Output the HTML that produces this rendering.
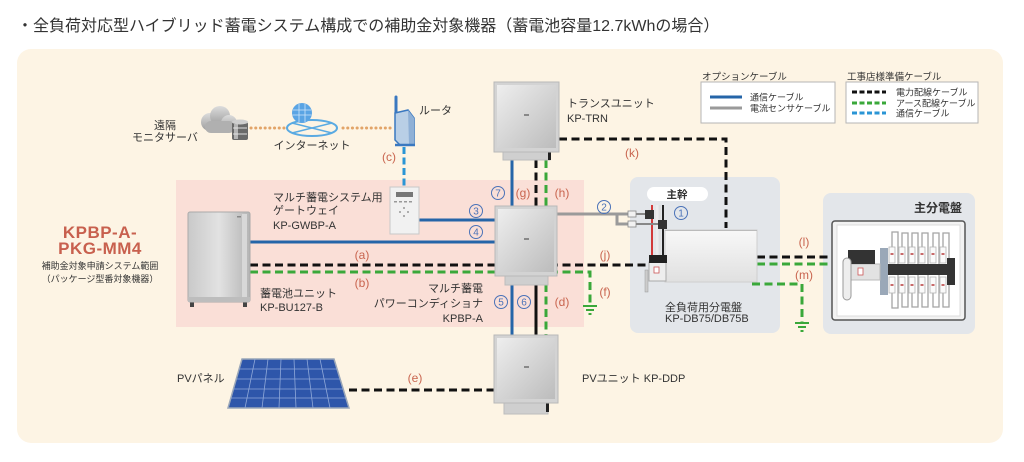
<!DOCTYPE html>
<html><head><meta charset="utf-8">
<style>
html,body{margin:0;padding:0;background:#fff;width:1024px;height:462px;overflow:hidden}
svg{display:block}
text{font-family:"Liberation Sans","Noto Sans CJK JP",sans-serif}
</style></head><body>
<svg width="1024" height="462" viewBox="0 0 1024 462" xmlns="http://www.w3.org/2000/svg">
<defs>
<linearGradient id="sil" x1="0" y1="0" x2="1" y2="1">
<stop offset="0" stop-color="#eeeeee"/><stop offset="1" stop-color="#bcbcbc"/>
</linearGradient>
<linearGradient id="sil2" x1="0" y1="0" x2="1" y2="0">
<stop offset="0" stop-color="#c9c9c9"/><stop offset="0.5" stop-color="#e2e2e2"/><stop offset="1" stop-color="#b5b5b5"/>
</linearGradient>
<linearGradient id="cloud" x1="0" y1="0" x2="0" y2="1"><stop offset="0" stop-color="#dcdcdc"/><stop offset="1" stop-color="#9c9c9c"/></linearGradient>
<linearGradient id="db" x1="0" y1="0" x2="0" y2="1"><stop offset="0" stop-color="#f8f8f8"/><stop offset="1" stop-color="#e0e0e0"/></linearGradient>
</defs>

<!-- title -->
<text x="17" y="31" font-size="16" fill="#333">・全負荷対応型ハイブリッド蓄電システム構成での補助金対象機器（蓄電池容量12.7kWhの場合）</text>

<!-- panels -->
<rect x="17" y="49" width="986" height="394" rx="14" fill="#fdf4e4"/>
<rect x="176" y="180" width="408" height="147" fill="#fadfd7"/>
<rect x="630" y="177" width="150" height="156" rx="8" fill="#e3e6ea"/>
<rect x="823" y="193" width="152" height="141" rx="8" fill="#e3e6ea"/>

<!-- legend -->
<text x="702" y="80" font-size="9.5" fill="#333">オプションケーブル</text>
<rect x="701" y="82" width="134" height="41" fill="#fff" stroke="#b5b5b5" stroke-width="1"/>
<line x1="710" y1="97" x2="742" y2="97" stroke="#2565a8" stroke-width="3"/>
<line x1="710" y1="108" x2="742" y2="108" stroke="#9a9a9a" stroke-width="3"/>
<text x="750" y="100.5" font-size="9" fill="#333">通信ケーブル</text>
<text x="750" y="111.5" font-size="9" fill="#333">電流センサケーブル</text>

<text x="847" y="80" font-size="9.5" fill="#333">工事店様準備ケーブル</text>
<rect x="846" y="82" width="132" height="41" fill="#fff" stroke="#b5b5b5" stroke-width="1"/>
<line x1="852" y1="92" x2="886" y2="92" stroke="#111" stroke-width="3" stroke-dasharray="5 2.5"/>
<line x1="852" y1="103" x2="886" y2="103" stroke="#3aa83a" stroke-width="3" stroke-dasharray="5 2.5"/>
<line x1="852" y1="113" x2="886" y2="113" stroke="#2a95d5" stroke-width="3" stroke-dasharray="5 2.5"/>
<text x="896" y="95.5" font-size="9" fill="#333">電力配線ケーブル</text>
<text x="896" y="106.5" font-size="9" fill="#333">アース配線ケーブル</text>
<text x="896" y="116.5" font-size="9" fill="#333">通信ケーブル</text>

<!-- connection lines -->
<g fill="none" stroke-width="3">
  <!-- internet dotted -->
  <line x1="251" y1="128" x2="284" y2="128" stroke="#e2a468" stroke-dasharray="0.1 4.6" stroke-linecap="round"/>
  <line x1="343" y1="128" x2="391" y2="128" stroke="#e2a468" stroke-dasharray="0.1 4.6" stroke-linecap="round"/>
  <!-- (c) -->
  <line x1="404" y1="147" x2="404" y2="187" stroke="#2a95d5" stroke-dasharray="7 3.5"/>
  <!-- 7, g, h -->
  <line x1="512" y1="159" x2="512" y2="206" stroke="#2565a8"/>
  <line x1="536" y1="160" x2="536" y2="206" stroke="#111" stroke-dasharray="8 4.5"/>
  <line x1="546" y1="160" x2="546" y2="206" stroke="#3aa83a" stroke-dasharray="8 4.5"/>
  <!-- 3, 4 -->
  <line x1="418" y1="220" x2="495" y2="220" stroke="#2565a8"/>
  <line x1="250" y1="242" x2="495" y2="242" stroke="#2565a8"/>
  <!-- a / j -->
  <line x1="250" y1="265" x2="650" y2="265" stroke="#111" stroke-dasharray="8 4.5"/>
  <!-- b / f -->
  <polyline points="250,272 590,272 590,305" stroke="#3aa83a" stroke-dasharray="8 4.5"/>
  <!-- 2 gray -->
  <polyline points="557,214 632,214" stroke="#9a9a9a"/>
  <polyline points="617,214 617,224 632,224" stroke="#9a9a9a"/>
  <!-- k -->
  <polyline points="559,139 726,139 726,228" stroke="#111" stroke-dasharray="8 4.5"/>
  <!-- l, m -->
  <line x1="757" y1="257" x2="834" y2="257" stroke="#111" stroke-dasharray="8 4.5"/>
  <line x1="757" y1="264" x2="834" y2="264" stroke="#3aa83a" stroke-dasharray="8 4.5"/>
  <polyline points="752,284 802,284 802,322" stroke="#3aa83a" stroke-dasharray="8 4.5"/>
  <!-- 5, 6, d -->
  <line x1="512" y1="284" x2="512" y2="337" stroke="#2565a8"/>
  <line x1="536" y1="284" x2="536" y2="337" stroke="#111"/>
  <line x1="546" y1="284" x2="546" y2="337" stroke="#3aa83a" stroke-dasharray="8 4.5"/>
  <!-- e -->
  <line x1="349" y1="390" x2="494" y2="390" stroke="#111" stroke-dasharray="8 4.5"/>
</g>

<!-- grounds -->
<g stroke="#3aa83a" stroke-width="2">
  <line x1="583" y1="306" x2="597" y2="306"/><line x1="586" y1="310" x2="594" y2="310"/><line x1="588.5" y1="314" x2="591.5" y2="314"/>
  <line x1="795" y1="323" x2="809" y2="323"/><line x1="798" y1="327" x2="806" y2="327"/><line x1="800.5" y1="331" x2="803.5" y2="331"/>
</g>

<!-- remote server: cloud + cylinder -->
<g>
  <circle cx="210" cy="122" r="9" fill="url(#cloud)"/>
  <circle cx="220" cy="116" r="10" fill="url(#cloud)"/>
  <circle cx="229" cy="123" r="8" fill="url(#cloud)"/>
  <rect x="205" y="121" width="30" height="12" rx="6" fill="#b0b0b0"/>
  <rect x="232" y="122" width="16" height="18" rx="2" fill="#6a6a6a"/>
  <ellipse cx="240" cy="122" rx="8" ry="2.5" fill="#cfcfcf"/>
  <line x1="233" y1="128" x2="247" y2="128" stroke="#ddd" stroke-width="1"/>
  <line x1="233" y1="134" x2="247" y2="134" stroke="#ddd" stroke-width="1"/>
  <rect x="234" y="124" width="4" height="15" fill="#e8e8e8" opacity="0.6"/>
</g>

<!-- internet globe -->
<g>
  <ellipse cx="312" cy="128" rx="25" ry="8" fill="none" stroke="#5aaae2" stroke-width="2"/>
  <line x1="292" y1="123" x2="332" y2="133" stroke="#5aaae2" stroke-width="1.5"/>
  <line x1="292" y1="133" x2="332" y2="123" stroke="#5aaae2" stroke-width="1.5"/>
  <circle cx="302" cy="113" r="10" fill="#5aa4e4"/>
  <g stroke="#cfe6fa" stroke-width="0.8" fill="none">
    <line x1="293" y1="110" x2="311" y2="110"/><line x1="292.5" y1="115" x2="311.5" y2="115"/>
    <line x1="299" y1="104" x2="299" y2="122"/><line x1="305" y1="104" x2="305" y2="122"/>
  </g>
</g>

<!-- router -->
<g>
  <line x1="396" y1="97" x2="396" y2="116" stroke="#3a78c0" stroke-width="3" stroke-linecap="round"/>
  <polygon points="395,113 408,110 414,118 414,145 400,145 395,140" fill="#b9cfe6" stroke="#3a78c0" stroke-width="1.5"/>
  <polygon points="408,110 414,118 414,145 409,145" fill="#8fb0d6"/>
  <line x1="395" y1="145" x2="415" y2="145" stroke="#3a78c0" stroke-width="2.5"/>
</g>

<!-- transunit -->
<g>
  <rect x="503" y="150" width="47" height="10" fill="#cfcfcf" stroke="#bcbcbc"/>
  <rect x="548" y="150" width="3" height="10" fill="#222"/>
  <rect x="494" y="82" width="65" height="70" fill="#d3d3d3" stroke="#b8b8b8"/>
  <rect x="497" y="85" width="59" height="63" fill="url(#sil)"/>
  <rect x="524" y="114" width="5" height="2" fill="#888"/>
</g>
<!-- PCS -->
<g>
  <rect x="505" y="276" width="43" height="9" fill="#cfcfcf" stroke="#bcbcbc"/>
  <rect x="495" y="206" width="62" height="70" fill="#d3d3d3" stroke="#b8b8b8"/>
  <rect x="498" y="209" width="56" height="63" fill="url(#sil)"/>
  <rect x="524" y="238" width="5" height="2" fill="#888"/>
</g>
<!-- PV unit -->
<g>
  <rect x="504" y="403" width="44" height="11" fill="#cfcfcf" stroke="#bcbcbc"/>
  <rect x="546" y="398" width="3" height="14" fill="#222"/>
  <rect x="494" y="335" width="64" height="68" fill="#d3d3d3" stroke="#b8b8b8"/>
  <rect x="497" y="338" width="58" height="61" fill="url(#sil)"/>
  <rect x="524" y="366" width="5" height="2" fill="#888"/>
</g>

<!-- battery -->
<g>
  <rect x="190" y="301" width="4" height="6" fill="#444"/>
  <rect x="243" y="301" width="4" height="6" fill="#444"/>
  <rect x="188" y="212" width="62" height="90" rx="2" fill="url(#sil2)" stroke="#aaa"/>
  <rect x="242" y="214" width="5" height="86" fill="#d8d8d8"/>
  <rect x="188" y="297" width="62" height="5" fill="#bdbdbd"/>
  <rect x="237" y="216" width="4" height="1.5" fill="#888"/>
</g>

<!-- gateway -->
<g>
  <rect x="390" y="187" width="29" height="47" fill="#f1f1f1" stroke="#c8c8c8"/>
  <rect x="396" y="192" width="17" height="5" fill="#777"/>
  <g fill="#999">
    <rect x="394" y="201" width="3" height="1.5"/><rect x="399" y="201" width="3" height="1.5"/><rect x="404" y="201" width="3" height="1.5"/><rect x="409" y="201" width="3" height="1.5"/>
    <circle cx="404" cy="208" r="1"/><circle cx="400" cy="212" r="1"/><circle cx="408" cy="212" r="1"/><circle cx="404" cy="216" r="1"/>
  </g>
</g>

<!-- full-load distribution board -->
<g>
  <rect x="665" y="230" width="92" height="52" fill="url(#db)" stroke="#cfcfcf"/>
  <line x1="665" y1="230.5" x2="757" y2="230.5" stroke="#bbb"/>
  <!-- wires -->
  <line x1="652" y1="205" x2="652" y2="257" stroke="#d23a3a" stroke-width="2"/>
  <line x1="657" y1="205" x2="657" y2="257" stroke="#eee" stroke-width="1.5"/>
  <line x1="660" y1="205" x2="660" y2="257" stroke="#ddd" stroke-width="1.5"/>
  <line x1="663" y1="205" x2="663" y2="257" stroke="#222" stroke-width="2"/>
  <!-- ct clamps -->
  <rect x="628" y="211" width="8" height="6" fill="#f2f2f2" stroke="#888" stroke-width="0.8"/>
  <rect x="628" y="221" width="8" height="6" fill="#f2f2f2" stroke="#888" stroke-width="0.8"/>
  <line x1="636" y1="214" x2="646" y2="214" stroke="#888" stroke-width="2"/>
  <line x1="636" y1="224" x2="659" y2="224" stroke="#888" stroke-width="2"/>
  <rect x="645" y="210" width="9" height="9" fill="#333"/>
  <rect x="658" y="220" width="9" height="9" fill="#333"/>
  <!-- breaker -->
  <rect x="649" y="262" width="17" height="19" fill="#eee" stroke="#aaa"/>
  <rect x="649" y="255" width="18" height="8" fill="#222"/>
  <rect x="654" y="267" width="5" height="6" fill="#fff" stroke="#c55" stroke-width="0.8"/>
  <rect x="645" y="270" width="3" height="22" fill="#ccc" stroke="#999" stroke-width="0.5"/>
</g>

<!-- main panel -->
<g>
  <rect x="832" y="221" width="133" height="99" rx="3" fill="#f2f2f2" stroke="#555" stroke-width="1.5"/>
  <rect x="837" y="225" width="123" height="91" fill="#fff" stroke="#dcdcdc"/>
  <g fill="none" stroke="#a5a5a5" stroke-width="1.3">
    <path d="M892 247 V232 H898 V308 H892 V293"/>
    <path d="M902 247 V233 H908 V307 H902 V293"/>
    <path d="M912 247 V233 H918 V307 H912 V293"/>
    <path d="M922 247 V233 H928 V307 H922 V293"/>
    <path d="M933 247 V233 H939 V307 H933 V293"/>
    <path d="M943 247 V233 H949 V307 H943 V293"/>
  </g>
  <rect x="888" y="264" width="67" height="11" fill="#333"/>
  <rect x="947" y="258" width="8" height="27" fill="#333"/>
  <g fill="#fafafa" stroke="#b5b5b5" stroke-width="0.8">
    <rect x="889" y="247" width="6" height="16"/><rect x="899" y="247" width="6" height="16"/><rect x="909" y="247" width="6" height="16"/><rect x="919" y="247" width="6" height="16"/><rect x="930" y="247" width="6" height="16"/><rect x="940" y="247" width="6" height="16"/>
    <rect x="889" y="277" width="6" height="16"/><rect x="899" y="277" width="6" height="16"/><rect x="909" y="277" width="6" height="16"/><rect x="919" y="277" width="6" height="16"/><rect x="930" y="277" width="6" height="16"/><rect x="940" y="277" width="6" height="16"/>
  </g>
  <g fill="#c86a6a">
    <rect x="890.5" y="253" width="3" height="2"/><rect x="900.5" y="253" width="3" height="2"/><rect x="910.5" y="253" width="3" height="2"/><rect x="920.5" y="253" width="3" height="2"/><rect x="931.5" y="253" width="3" height="2"/><rect x="941.5" y="253" width="3" height="2"/>
    <rect x="890.5" y="284" width="3" height="2"/><rect x="900.5" y="284" width="3" height="2"/><rect x="910.5" y="284" width="3" height="2"/><rect x="920.5" y="284" width="3" height="2"/><rect x="931.5" y="284" width="3" height="2"/><rect x="941.5" y="284" width="3" height="2"/>
  </g>
  <rect x="880" y="248" width="8" height="47" fill="#9aa8b8"/>
  <rect x="848" y="264" width="32" height="16" fill="#e2e2e2" stroke="#bbb"/>
  <rect x="848" y="250" width="27" height="14" fill="#333"/>
  <rect x="858" y="268" width="5" height="7" fill="#fff" stroke="#c55" stroke-width="0.8"/>
  <rect x="843" y="258" width="8" height="42" rx="4" fill="#eee" stroke="#999"/>
</g>

<!-- PV panel -->
<g>
  <polygon points="242,359 334,359 349,408 228,408" fill="#2e56aa" stroke="#9aa6b8" stroke-width="1.5"/>
  <g stroke="#8fa8d8" stroke-width="0.8" fill="none">
    <line x1="239.2" y1="369" x2="337" y2="369"/>
    <line x1="236.4" y1="379" x2="340" y2="379"/>
    <line x1="233.6" y1="389" x2="343" y2="389"/>
    <line x1="230.8" y1="398" x2="346" y2="398"/>
    <line x1="255" y1="359" x2="245" y2="408"/>
    <line x1="268" y1="359" x2="262" y2="408"/>
    <line x1="281" y1="359" x2="279" y2="408"/>
    <line x1="294" y1="359" x2="296" y2="408"/>
    <line x1="307" y1="359" x2="313" y2="408"/>
    <line x1="320" y1="359" x2="330" y2="408"/>
  </g>
</g>

<!-- circled numbers -->
<g fill="none" stroke="#4a72b8" stroke-width="1">
  <circle cx="498" cy="193" r="6.5"/><circle cx="476" cy="211" r="6.5"/><circle cx="476" cy="232" r="6.5"/>
  <circle cx="604" cy="207" r="6.5"/><circle cx="681" cy="213" r="6.5"/><circle cx="501" cy="302" r="6.5"/><circle cx="524" cy="302" r="6.5"/>
</g>
<g font-size="10" fill="#4a72b8" text-anchor="middle">
  <text x="498" y="196.5">7</text><text x="476" y="214.5">3</text><text x="476" y="235.5">4</text>
  <text x="604" y="210.5">2</text><text x="681" y="216.5">1</text><text x="501" y="305.5">5</text><text x="524" y="305.5">6</text>
</g>

<!-- letter labels -->
<g font-size="12" fill="#c9654f" text-anchor="middle">
  <text x="389" y="161">(c)</text>
  <text x="523" y="197">(g)</text>
  <text x="562" y="197">(h)</text>
  <text x="362" y="259">(a)</text>
  <text x="362" y="287">(b)</text>
  <text x="605" y="259">(j)</text>
  <text x="605" y="296">(f)</text>
  <text x="562" y="306">(d)</text>
  <text x="632" y="157">(k)</text>
  <text x="804" y="246">(l)</text>
  <text x="804" y="279">(m)</text>
  <text x="415" y="382">(e)</text>
</g>

<!-- device labels -->
<g font-size="11" fill="#333">
  <text x="165" y="129" text-anchor="middle">遠隔</text>
  <text x="165" y="141" text-anchor="middle">モニタサーバ</text>
  <text x="312" y="149" text-anchor="middle">インターネット</text>
  <text x="419" y="114">ルータ</text>
  <text x="567" y="107">トランスユニット</text>
  <text x="567" y="122">KP-TRN</text>
  <text x="273" y="201">マルチ蓄電システム用</text>
  <text x="273" y="214">ゲートウェイ</text>
  <text x="273" y="229">KP-GWBP-A</text>
  <text x="260" y="297">蓄電池ユニット</text>
  <text x="260" y="311">KP-BU127-B</text>
  <text x="483" y="292" text-anchor="end">マルチ蓄電</text>
  <text x="483" y="307" text-anchor="end">パワーコンディショナ</text>
  <text x="483" y="322" text-anchor="end">KPBP-A</text>
  <text x="665" y="311">全負荷用分電盤</text>
  <text x="665" y="322">KP-DB75/DB75B</text>
  <text x="177" y="382">PVパネル</text>
  <text x="582" y="382">PVユニット KP-DDP</text>
</g>
<rect x="647" y="187" width="61" height="14" rx="7" fill="#fff"/>
<text x="677" y="198" font-size="10.5" fill="#333" text-anchor="middle" font-weight="bold">主幹</text>
<text x="962" y="212" font-size="12" fill="#333" text-anchor="end" font-weight="bold">主分電盤</text>

<!-- package label -->
<text x="100" y="238" font-size="17" font-weight="bold" fill="#c8604e" text-anchor="middle" letter-spacing="0.5">KPBP-A-</text>
<text x="100" y="254" font-size="17" font-weight="bold" fill="#c8604e" text-anchor="middle" letter-spacing="0.5">PKG-MM4</text>
<text x="100" y="269" font-size="9" fill="#333" text-anchor="middle">補助金対象申請システム範囲</text>
<text x="100" y="282" font-size="9" fill="#333" text-anchor="middle">（パッケージ型番対象機器）</text>
</svg>
</body></html>
